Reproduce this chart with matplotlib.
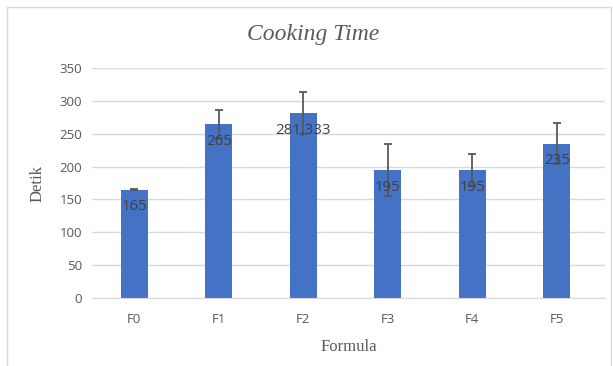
import matplotlib.pyplot as plt
from matplotlib.patches import Rectangle

formulas = ['F0', 'F1', 'F2', 'F3', 'F4', 'F5']
times = [165, 265, 281.333, 195, 195, 235]
errors = [1, 21, 32, 40, 24, 31]
labels = ['165', '265', '281,333', '195', '195', '235']

fig = plt.figure(figsize=(6.13, 3.66), dpi=100)
ax = fig.add_axes([0.150, 0.186, 0.837, 0.628])

# chart border like the Excel chart area
fig.patches.append(Rectangle((0.012, -0.01), 0.985, 0.99, transform=fig.transFigure,
                             fill=False, edgecolor='#d9d9d9', linewidth=1))

x = range(len(formulas))
ax.bar(x, times, width=0.32, color='#4472C4', zorder=2)
ax.errorbar(x, times, yerr=errors, fmt='none', ecolor='#595959',
            elinewidth=1.3, capsize=3, capthick=1.3, zorder=3)

for i, (v, lab) in enumerate(zip(times, labels)):
    ax.text(i, v - 15, lab, ha='center', va='top', fontsize=10.8,
            color='#404040', family='Open Sans', zorder=4)

ax.set_ylim(0, 350)
ax.set_xlim(-0.5, 5.57)
ax.set_yticks(range(0, 351, 50))
ax.set_xticks(list(x))
ax.set_xticklabels(formulas)
ax.yaxis.grid(True, color='#d9d9d9', linewidth=1, zorder=0)
ax.set_axisbelow(True)
for s in ['top', 'right', 'left']:
    ax.spines[s].set_visible(False)
ax.spines['bottom'].set_color('#d9d9d9')
ax.tick_params(axis='y', length=0, labelsize=9.5, labelcolor='#595959', pad=7)
ax.tick_params(axis='x', length=0, labelsize=9.5, labelcolor='#595959', pad=11)
for t in ax.get_xticklabels() + ax.get_yticklabels():
    t.set_family('Open Sans')

fig.text(0.51, 0.905, 'Cooking Time', fontsize=17, style='italic', family='Liberation Serif',
         color='#595959', ha='center', va='center')
ax.set_xlabel('Formula', fontsize=12, family='Liberation Serif', color='#595959', labelpad=9)
ax.set_ylabel('Detik', fontsize=12, family='Liberation Serif', color='#595959', labelpad=10)

fig.savefig('out.png', dpi=100)
